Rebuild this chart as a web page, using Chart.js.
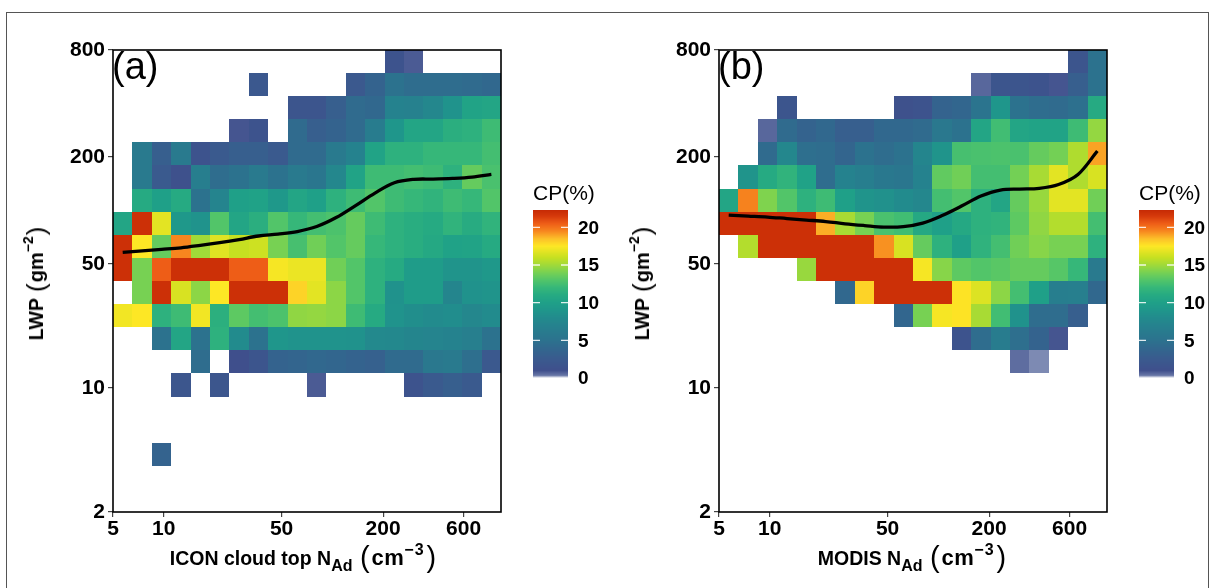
<!DOCTYPE html>
<html><head><meta charset="utf-8">
<script src="https://cdn.jsdelivr.net/npm/chart.js@4/dist/chart.umd.min.js"></script>
<style>
html,body{margin:0;padding:0;background:#fff;}
body{width:1214px;height:588px;position:relative;overflow:hidden;font-family:"Liberation Sans",Arial,sans-serif;}
canvas{position:absolute;top:0;}
.t{position:absolute;white-space:nowrap;color:#000;line-height:1;}
.xt{font-size:19.5px;font-weight:bold;transform:translate(-50%,-50%);}
.yt{font-size:19.5px;font-weight:bold;transform:translate(-50%,-50%) rotate(-90deg);}
.p{font-weight:normal;font-size:29px;margin:0 2px;vertical-align:-2px;}
.u{font-size:22px;letter-spacing:0.5px;}
.yt .p{font-size:26px;margin:0 1px;}
.yt .u{font-size:20px;letter-spacing:0;}
.yt sup{font-size:14px;letter-spacing:0;}
sub{font-size:16px;vertical-align:-6px;line-height:0;}
sup{font-size:16px;vertical-align:10px;line-height:0;letter-spacing:1px;}
.lab{font-size:38px;}
.cbt{font-size:21px;transform:translateY(-50%);}
#frame{position:absolute;left:6px;top:12px;width:1201px;height:600px;border:1px solid #555;}
</style></head><body>
<div id="frame"></div>
<canvas id="ca" width="607" height="588" style="left:0"></canvas>
<canvas id="cb" width="607" height="588" style="left:606px"></canvas>

<div class="t lab" style="left:112px;top:47px">(a)</div>
<div class="t lab" style="left:718px;top:47px">(b)</div>
<div class="t yt" style="left:36px;top:283px">LWP <span class="p">(</span><span class="u">gm</span><sup>−2</sup><span class="p">)</span></div>
<div class="t yt" style="left:642px;top:283px">LWP <span class="p">(</span><span class="u">gm</span><sup>−2</sup><span class="p">)</span></div>
<div class="t xt" style="left:304px;top:557px">ICON cloud top N<sub>Ad</sub> <span class="p">(</span><span class="u">cm</span><sup>−3</sup><span class="p">)</span></div>
<div class="t xt" style="left:913px;top:557px">MODIS N<sub>Ad</sub> <span class="p">(</span><span class="u">cm</span><sup>−3</sup><span class="p">)</span></div>
<div class="t cbt" style="left:533px;top:192px">CP(%)</div>
<div class="t cbt" style="left:1139px;top:192px">CP(%)</div>

<script>
// ---- axis ticks ----
const xTicks = [5, 10, 50, 200, 600];
const yTicks = [2, 10, 50, 200, 800];
const cbTicks = [0, 5, 10, 15, 20];

// ---- bin edges (log-spaced categories) ----
const xEdges = [5, 6.517, 8.494, 11.07, 14.43, 18.81, 24.52, 31.96, 41.65, 54.29, 70.76, 92.23, 120.2, 156.7, 204.2, 266.2, 346.9, 452.2, 589.4, 768.2, 1000];
const yEdges = [2, 2.699, 3.641, 4.913, 6.629, 8.944, 12.07, 16.28, 21.97, 29.64, 40.0, 53.97, 72.82, 98.26, 132.6, 178.9, 241.3, 325.6, 439.4, 592.8, 800];

// ---- mean LWP lines at N_Ad bin centres ----
const binCentersX = [5.708, 7.44, 9.697, 12.64, 16.47, 21.47, 27.98, 36.47, 47.54, 61.96, 80.75, 105.3, 137.2, 178.8, 233.1, 303.8, 396.0, 516.1, 672.7, 876.7];
const lwpMeanA = [58.0, 59.2, 60.3, 61.5, 63.5, 65.8, 68.5, 71.7, 73.5, 76.0, 81.1, 91.1, 106.4, 125.1, 143.0, 149.5, 150.1, 151.4, 154.0, 159.5];
const lwpMeanB = [94.1, 92.9, 91.7, 89.9, 88.2, 86.5, 84.0, 82.1, 80.5, 81.0, 84.8, 93.5, 105.7, 120.4, 130.1, 131.8, 133.0, 139.7, 159.1, 215.8];

// ---- CP (%) per cell, rows from top (LWP 592.8-800) to bottom (2-2.7), columns N_Ad low->high ----
const _ = null;
const cpA = [
 [_,_,_,_,_,_,_,_,_,_,_,_,_,_,1.5,0.8,_,_,_,_],
 [_,_,_,_,_,_,_,2.2,_,_,_,_,2.3,3.5,5,4.5,4.5,4.5,4.3,4],
 [_,_,_,_,_,_,_,_,_,1.8,1.8,3,4.3,4,7,6.8,7.5,8.7,10.3,10.5],
 [_,_,_,_,_,_,0.9,1.5,_,4.3,3,3.5,4.3,6.3,9,10.5,10.5,11.3,11.5,12.3],
 [_,6,3,6,1.5,2.5,3,3,2.5,4.3,4.3,6,7,10.3,11.5,11.5,12,12,12,12.5],
 [_,6,2.5,1.3,6.5,4.5,5,6,5,6,5.5,7.5,10.3,12.3,12.3,12.5,12.3,11.5,13.5,12.7],
 [_,11,10,11,5,7.2,10,10.2,9.2,10.5,10,11.5,12.3,13,12.3,12,11.7,12.3,12,13],
 [10.5,22,16.8,9.2,8.7,13,10.5,11.3,13,12,12.5,12.8,13.5,12.3,11.5,11.2,11,11.7,11.1,11.7],
 [22,17.5,13.5,19.5,15,16.7,16,16.2,14,12.6,13.8,13,13.5,12,11.5,11.2,10.8,10.2,10.3,11],
 [22,14,20.5,22,22,22,20.5,20.5,17.3,17,17,13.8,13,11.5,11,9.6,9.6,8.8,8.8,9.2],
 [_,14,22,16.5,14.5,17.5,22,22,22,18,16.8,14.5,13,11.5,8.6,9.6,9.6,7.3,8.6,8.8],
 [17.2,17.5,11.5,12.3,17.2,11.4,13.3,12.5,12.8,14.6,14.7,14.5,12.3,11,8.7,8.3,8,8.2,7.5,8],
 [_,_,5,10.5,5,11.5,8,5,9,8.7,8.7,8.7,8.6,7.8,7.7,7.3,7.2,7,6.6,5],
 [_,_,_,_,4.5,_,1,1.8,3.5,3.7,4,3.8,3.5,3.2,4.3,4.3,5.7,6,4.7,2.3],
 [_,_,_,2,_,2,_,_,_,_,0.8,_,_,_,_,1.5,2.5,3,2.5,_],
 [_,_,_,_,_,_,_,_,_,_,_,_,_,_,_,_,_,_,_,_],
 [_,_,_,_,_,_,_,_,_,_,_,_,_,_,_,_,_,_,_,_],
 [_,_,3.5,_,_,_,_,_,_,_,_,_,_,_,_,_,_,_,_,_],
 [_,_,_,_,_,_,_,_,_,_,_,_,_,_,_,_,_,_,_,_],
 [_,_,_,_,_,_,_,_,_,_,_,_,_,_,_,_,_,_,_,_]
];
const cpB = [
 [_,_,_,_,_,_,_,_,_,_,_,_,_,_,_,_,_,_,1.8,5],
 [_,_,_,_,_,_,_,_,_,_,_,_,_,0.6,1.8,1.8,1.6,0.9,3,5],
 [_,_,_,1.8,_,_,_,_,_,1.3,1.6,3.5,3.8,5.2,9,5,4.5,4.3,4.8,11],
 [_,_,0.6,4.3,3.5,4,3,3,4,4,4.3,5.7,5,10.5,12.4,10.5,10.3,10.3,12.3,14.7],
 [_,_,4.3,7.5,4.7,4.5,3.7,5,4.5,5,7.3,8.8,12.6,12.7,12.8,12.7,13.5,13.9,15.4,19],
 [_,8.8,11,11.7,10.2,4.5,7,6.5,5.8,5.5,7,13.4,13.8,12.5,12.5,13.9,15.2,16.8,15.4,16.5],
 [10.5,19.6,14.2,13,11.5,12.3,10,8.8,8.5,8,7.5,12.5,13,11.5,10.5,13.5,14.8,16.8,16.8,13.8],
 [22,22,22,22,22,18.8,15.2,14,12.7,12.4,10.8,10,10.8,11.5,11.7,13.3,14.6,15.5,15.5,12.5],
 [_,15.5,22,22,22,22,22,22,19.3,16.5,13.5,11.5,10,11.6,12.5,13.8,14.4,14,14,11.5],
 [_,_,_,_,14.8,22,22,22,22,22,17.3,14.4,13.3,13,13.2,13.5,13.5,13.1,12,6],
 [_,_,_,_,_,_,4,18,22,22,22,22,17.6,16.6,14.5,12.5,10,6.5,6.6,4],
 [_,_,_,_,_,_,_,_,_,3.8,14,17.3,17.6,15.2,12.4,8.6,4.5,4.5,3,_],
 [_,_,_,_,_,_,_,_,_,_,_,_,1.5,4.5,6.3,4.7,3.5,0.9,_,_],
 [_,_,_,_,_,_,_,_,_,_,_,_,_,_,_,0.5,0.3,_,_,_],
 [_,_,_,_,_,_,_,_,_,_,_,_,_,_,_,_,_,_,_,_],
 [_,_,_,_,_,_,_,_,_,_,_,_,_,_,_,_,_,_,_,_],
 [_,_,_,_,_,_,_,_,_,_,_,_,_,_,_,_,_,_,_,_],
 [_,_,_,_,_,_,_,_,_,_,_,_,_,_,_,_,_,_,_,_],
 [_,_,_,_,_,_,_,_,_,_,_,_,_,_,_,_,_,_,_,_],
 [_,_,_,_,_,_,_,_,_,_,_,_,_,_,_,_,_,_,_,_]
];

// ---- colour map ----
const cmapStops = [
 [0.0,'#ffffff'],[0.35,'#6776a6'],[1.0,'#3f4f8c'],[2.5,'#3a5a8e'],[4.0,'#31688e'],
 [5.0,'#2c728e'],[6.5,'#277e8e'],[8.0,'#228b8d'],[9.0,'#1f968b'],[10.0,'#1fa088'],
 [11.0,'#26aa82'],[12.0,'#36b779'],[13.0,'#52c569'],[14.0,'#77d153'],[15.0,'#a0da39'],
 [16.0,'#c6e021'],[17.5,'#fde725'],[18.5,'#fcbf29'],[19.5,'#f7861f'],[20.5,'#ee5d17'],
 [21.5,'#d5390b'],[22.3,'#c62a04']
];
const CB_MAX = 22.3;
function hex2rgb(h){return [parseInt(h.slice(1,3),16),parseInt(h.slice(3,5),16),parseInt(h.slice(5,7),16)];}
function cpColor(v){
  v = Math.max(0, Math.min(CB_MAX, v));
  for (let i=1;i<cmapStops.length;i++){
    if (v <= cmapStops[i][0]){
      const [a,ca] = cmapStops[i-1], [b,cb] = cmapStops[i];
      const t = (v-a)/(b-a), A = hex2rgb(ca), B = hex2rgb(cb);
      return 'rgb(' + A.map((c,k)=>Math.round(c+(B[k]-c)*t)).join(',') + ')';
    }
  }
  return cmapStops[cmapStops.length-1][1];
}

const FONT = '"Liberation Sans", Arial, sans-serif';

const heatPlugin = {
  id: 'heat',
  beforeDatasetsDraw(chart, args, opts){
    const {ctx, chartArea:a} = chart, x = chart.scales.x, y = chart.scales.y;
    const grid = opts.grid, n = grid.length;
    ctx.save();
    ctx.beginPath(); ctx.rect(a.left, a.top, a.right-a.left, a.bottom-a.top); ctx.clip();
    grid.forEach((row, r) => {
      const yi = n - 1 - r;
      const yTop = Math.round(y.getPixelForValue(yEdges[yi+1]));
      const yBot = Math.round(y.getPixelForValue(yEdges[yi]));
      row.forEach((v, c) => {
        if (v === null) return;
        const x0 = Math.round(x.getPixelForValue(xEdges[c]));
        const x1 = Math.round(x.getPixelForValue(xEdges[c+1]));
        ctx.fillStyle = cpColor(v);
        ctx.fillRect(x0, yTop, x1-x0, yBot-yTop);
      });
    });
    ctx.restore();
  },
  afterDatasetsDraw(chart){
    const {ctx, chartArea:a} = chart;
    ctx.save();
    ctx.strokeStyle = '#000'; ctx.lineWidth = 1.6;
    ctx.strokeRect(a.left, a.top, a.right-a.left, a.bottom-a.top);
    ctx.restore();
  },
  afterDraw(chart, args, opts){
    const ctx = chart.ctx;
    const cbx = chart.chartArea.right + 32, cbw = 35, cbBot = 378, cbTop = 210;
    const ppu = (cbBot - cbTop) / CB_MAX;
    ctx.save();
    for (let py = cbTop; py < cbBot; py++){
      const v = (cbBot - (py + 0.5)) / ppu;
      ctx.fillStyle = cpColor(v);
      ctx.fillRect(cbx, py, cbw, 1);
    }
    ctx.strokeStyle = 'rgba(255,255,255,0.85)'; ctx.lineWidth = 1.4;
    ctx.fillStyle = '#000';
    ctx.font = 'bold 19px ' + FONT;
    ctx.textAlign = 'left'; ctx.textBaseline = 'middle';
    cbTicks.forEach(t => {
      const py = cbBot - t * ppu;
      if (t > 0){
        ctx.beginPath();
        ctx.moveTo(cbx, py); ctx.lineTo(cbx + 7, py);
        ctx.moveTo(cbx + cbw - 7, py); ctx.lineTo(cbx + cbw, py);
        ctx.stroke();
      }
      ctx.fillText(String(t), cbx + cbw + 10, py + 1);
    });
    ctx.restore();
  }
};

function makeChart(id, grid, lwp){
  const tickFont = {family: FONT, size: 21, weight: 'bold'};
  return new Chart(document.getElementById(id), {
    type: 'line',
    data: {
      datasets: [{
        data: binCentersX.map((xv, i) => ({x: xv, y: lwp[i]})),
        borderColor: '#000', borderWidth: 3.3, pointRadius: 0,
        tension: 0.35, fill: false
      }]
    },
    plugins: [heatPlugin],
    options: {
      responsive: false, animation: false,
      layout: {padding: {top: 50, right: 106, left: 0, bottom: 0}},
      plugins: {legend: {display: false}, tooltip: {enabled: false}, heat: {grid: grid}},
      scales: {
        x: {
          type: 'logarithmic', min: 5, max: 1000,
          afterBuildTicks: s => { s.ticks = xTicks.map(v => ({value: v})); },
          afterFit: s => { s.height = 76; },
          ticks: {callback: v => String(v), font: tickFont, color: '#000', padding: 0, maxRotation: 0, autoSkip: false},
          grid: {drawOnChartArea: false, tickLength: 5, color: '#444', lineWidth: 1.2},
          border: {display: false}
        },
        y: {
          type: 'logarithmic', min: 2, max: 800,
          afterBuildTicks: s => { s.ticks = yTicks.map(v => ({value: v})); },
          afterFit: s => { s.width = 113; },
          ticks: {callback: v => String(v), font: tickFont, color: '#000', padding: 3, autoSkip: false},
          grid: {drawOnChartArea: false, tickLength: 5, color: '#444', lineWidth: 1.2},
          border: {display: false}
        }
      }
    }
  });
}
makeChart('ca', cpA, lwpMeanA);
makeChart('cb', cpB, lwpMeanB);
</script>
</body></html>
